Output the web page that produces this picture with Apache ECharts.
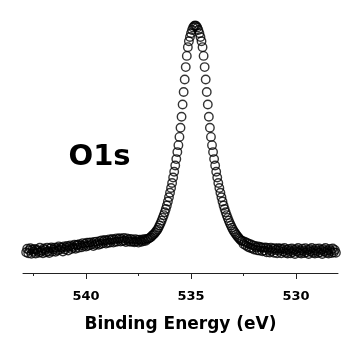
<!DOCTYPE html>
<html>
<head>
<meta charset="utf-8">
<script src="https://cdn.jsdelivr.net/npm/echarts@6/dist/echarts.min.js"></script>
<style>
html,body{margin:0;padding:0;background:#fff;}
#chart{width:346px;height:347px;}
</style>
</head>
<body>
<div id="chart"></div>
<script>
// Binding energy (eV)
const energy = [
542.85,542.80,542.75,542.70,542.65,542.60,542.55,542.50,542.45,542.40,
542.35,542.30,542.25,542.20,542.15,542.10,542.05,542.00,541.95,541.90,
541.85,541.80,541.75,541.70,541.65,541.60,541.55,541.50,541.45,541.40,
541.35,541.30,541.25,541.20,541.15,541.10,541.05,541.00,540.95,540.90,
540.85,540.80,540.75,540.70,540.65,540.60,540.55,540.50,540.45,540.40,
540.35,540.30,540.25,540.20,540.15,540.10,540.05,540.00,539.95,539.90,
539.85,539.80,539.75,539.70,539.65,539.60,539.55,539.50,539.45,539.40,
539.35,539.30,539.25,539.20,539.15,539.10,539.05,539.00,538.95,538.90,
538.85,538.80,538.75,538.70,538.65,538.60,538.55,538.50,538.45,538.40,
538.35,538.30,538.25,538.20,538.15,538.10,538.05,538.00,537.95,537.90,
537.85,537.80,537.75,537.70,537.65,537.60,537.55,537.50,537.45,537.40,
537.35,537.30,537.25,537.20,537.15,537.10,537.05,537.00,536.95,536.90,
536.85,536.80,536.75,536.70,536.65,536.60,536.55,536.50,536.45,536.40,
536.35,536.30,536.25,536.20,536.15,536.10,536.05,536.00,535.95,535.90,
535.85,535.80,535.75,535.70,535.65,535.60,535.55,535.50,535.45,535.40,
535.35,535.30,535.25,535.20,535.15,535.10,535.05,535.00,534.95,534.90,
534.85,534.80,534.75,534.70,534.65,534.60,534.55,534.50,534.45,534.40,
534.35,534.30,534.25,534.20,534.15,534.10,534.05,534.00,533.95,533.90,
533.85,533.80,533.75,533.70,533.65,533.60,533.55,533.50,533.45,533.40,
533.35,533.30,533.25,533.20,533.15,533.10,533.05,533.00,532.95,532.90,
532.85,532.80,532.75,532.70,532.65,532.60,532.55,532.50,532.45,532.40,
532.35,532.30,532.25,532.20,532.15,532.10,532.05,532.00,531.95,531.90,
531.85,531.80,531.75,531.70,531.65,531.60,531.55,531.50,531.45,531.40,
531.35,531.30,531.25,531.20,531.15,531.10,531.05,531.00,530.95,530.90,
530.85,530.80,530.75,530.70,530.65,530.60,530.55,530.50,530.45,530.40,
530.35,530.30,530.25,530.20,530.15,530.10,530.05,530.00,529.95,529.90,
529.85,529.80,529.75,529.70,529.65,529.60,529.55,529.50,529.45,529.40,
529.35,529.30,529.25,529.20,529.15,529.10,529.05,529.00,528.95,528.90,
528.85,528.80,528.75,528.70,528.65,528.60,528.55,528.50,528.45,528.40,
528.35,528.30,528.25,528.20,528.15,528.10
];
// Intensity (arbitrary units)
const intensity = [
8.3,9.7,7.9,9.1,9.9,7.7,9.3,8.5,9.6,7.8,
9.4,8.8,8.1,10.1,8.4,9.0,7.9,9.8,9.3,8.3,
10.2,8.7,8.0,9.8,10.3,8.6,9.4,10.2,8.5,10.0,
9.0,10.7,9.3,10.3,10.0,8.6,10.7,9.4,10.2,10.9,
9.0,10.5,11.1,9.6,10.7,10.1,11.4,9.7,11.1,11.4,
10.1,11.6,11.0,10.3,12.0,10.9,11.7,10.6,12.2,10.9,
12.2,11.2,12.3,11.6,10.8,12.5,11.3,12.6,11.9,11.3,
12.8,11.6,13.1,11.9,12.8,13.3,11.8,13.0,12.1,13.5,
12.2,13.2,13.7,12.2,13.4,12.5,13.9,12.6,13.6,14.0,
12.6,13.7,12.8,14.1,13.0,12.4,13.9,13.3,12.6,13.7,
12.5,13.5,12.7,12.3,13.6,12.6,13.3,12.2,13.4,12.9,
12.5,13.5,12.8,13.6,12.9,13.7,13.6,13.9,14.2,14.4,
15.0,15.3,15.7,16.2,16.8,17.4,18.2,19.1,20.0,21.0,
22.1,23.2,24.4,25.7,27.1,28.7,30.4,32.2,34.1,36.1,
38.3,40.6,43.1,45.7,48.5,51.3,54.6,58.3,62.7,67.6,
72.6,77.6,82.6,87.1,90.6,93.0,94.7,96.2,97.5,98.5,
99.1,99.3,99.1,98.5,97.5,96.2,94.7,93.0,90.6,87.1,
82.6,77.6,72.6,67.6,62.7,58.3,54.6,51.3,48.5,45.7,
43.1,40.6,38.3,36.1,34.1,32.2,30.4,28.7,27.1,25.7,
24.4,23.2,22.1,21.0,20.0,19.1,18.2,17.4,16.6,16.0,
15.4,14.8,14.3,13.8,13.3,12.9,12.9,11.6,12.6,11.1,
12.2,10.5,11.8,10.1,11.5,9.9,11.1,9.4,10.9,10.3,
9.1,10.7,9.0,10.5,10.1,8.7,10.2,9.0,10.3,8.3,
10.0,9.2,8.2,10.2,8.8,9.7,8.1,9.9,9.2,7.9,
9.9,8.9,9.8,7.9,9.6,8.6,10.0,8.1,9.2,7.8,
9.6,8.8,7.9,9.8,8.4,9.2,7.6,9.5,8.6,10.0,
8.1,9.0,7.8,9.7,8.8,8.0,9.9,8.3,9.2,7.6,
9.5,8.6,10.0,8.1,9.0,7.8,9.7,8.8,8.0,9.8,
8.3,9.2,7.6,9.5,8.6,10.0,8.1,9.0,7.8,9.6,
8.8,8.0,9.8,8.3,9.2,8.1
];
const tickLabels = [540, 535, 530];
const minorTicks = [542.5, 537.5, 532.5];
const axisTitle = 'Binding Energy (eV)';
const peakLabel = 'O1s';

const points = energy.map((e, i) => [e, intensity[i]]);
const FONT = '"DejaVu Sans", sans-serif';

const chart = echarts.init(document.getElementById('chart'), null, {renderer: 'canvas'});
chart.setOption({
  animation: false,
  backgroundColor: '#fff',
  grid: [
    {left: 23, right: 8, top: 20, bottom: 74},
    {left: 23, right: 8, top: 20, bottom: 74}
  ],
  xAxis: [
    {
      type: 'value', gridIndex: 0, min: 528, max: 543, inverse: true, position: 'bottom',
      axisLine: {show: true, onZero: false, lineStyle: {color: '#222', width: 1}},
      axisTick: {show: true, length: 6, customValues: tickLabels, lineStyle: {color: '#222', width: 1}},
      axisLabel: {show: true, customValues: tickLabels, margin: 17, color: '#000',
        fontFamily: FONT, fontWeight: 'bold', fontSize: 13},
      splitLine: {show: false},
      name: axisTitle, nameLocation: 'middle', nameGap: 43,
      nameTextStyle: {fontFamily: FONT, fontWeight: 'bold', fontSize: 17, color: '#000'}
    },
    {
      type: 'value', gridIndex: 1, min: 528, max: 543, inverse: true, position: 'bottom',
      axisLine: {show: false},
      axisTick: {show: true, length: 3, customValues: minorTicks, lineStyle: {color: '#222', width: 1}},
      axisLabel: {show: false},
      splitLine: {show: false}
    }
  ],
  yAxis: [
    {type: 'value', gridIndex: 0, min: 0, max: 101.5, show: false},
    {type: 'value', gridIndex: 1, min: 0, max: 101.5, show: false}
  ],
  graphic: [
    {
      type: 'text', x: 68.5, y: 143,
      style: {text: peakLabel, font: 'bold 29px "DejaVu Sans", sans-serif', fill: '#000',
        textAlign: 'left', textVerticalAlign: 'top'}
    }
  ],
  series: [
    {
      type: 'scatter', xAxisIndex: 0, yAxisIndex: 0,
      data: points,
      symbol: 'circle', symbolSize: 8.5,
      itemStyle: {color: 'rgba(255,255,255,0)', borderColor: '#000', borderWidth: 1.4},
      emphasis: {disabled: true}
    }
  ]
});
</script>
</body>
</html>
